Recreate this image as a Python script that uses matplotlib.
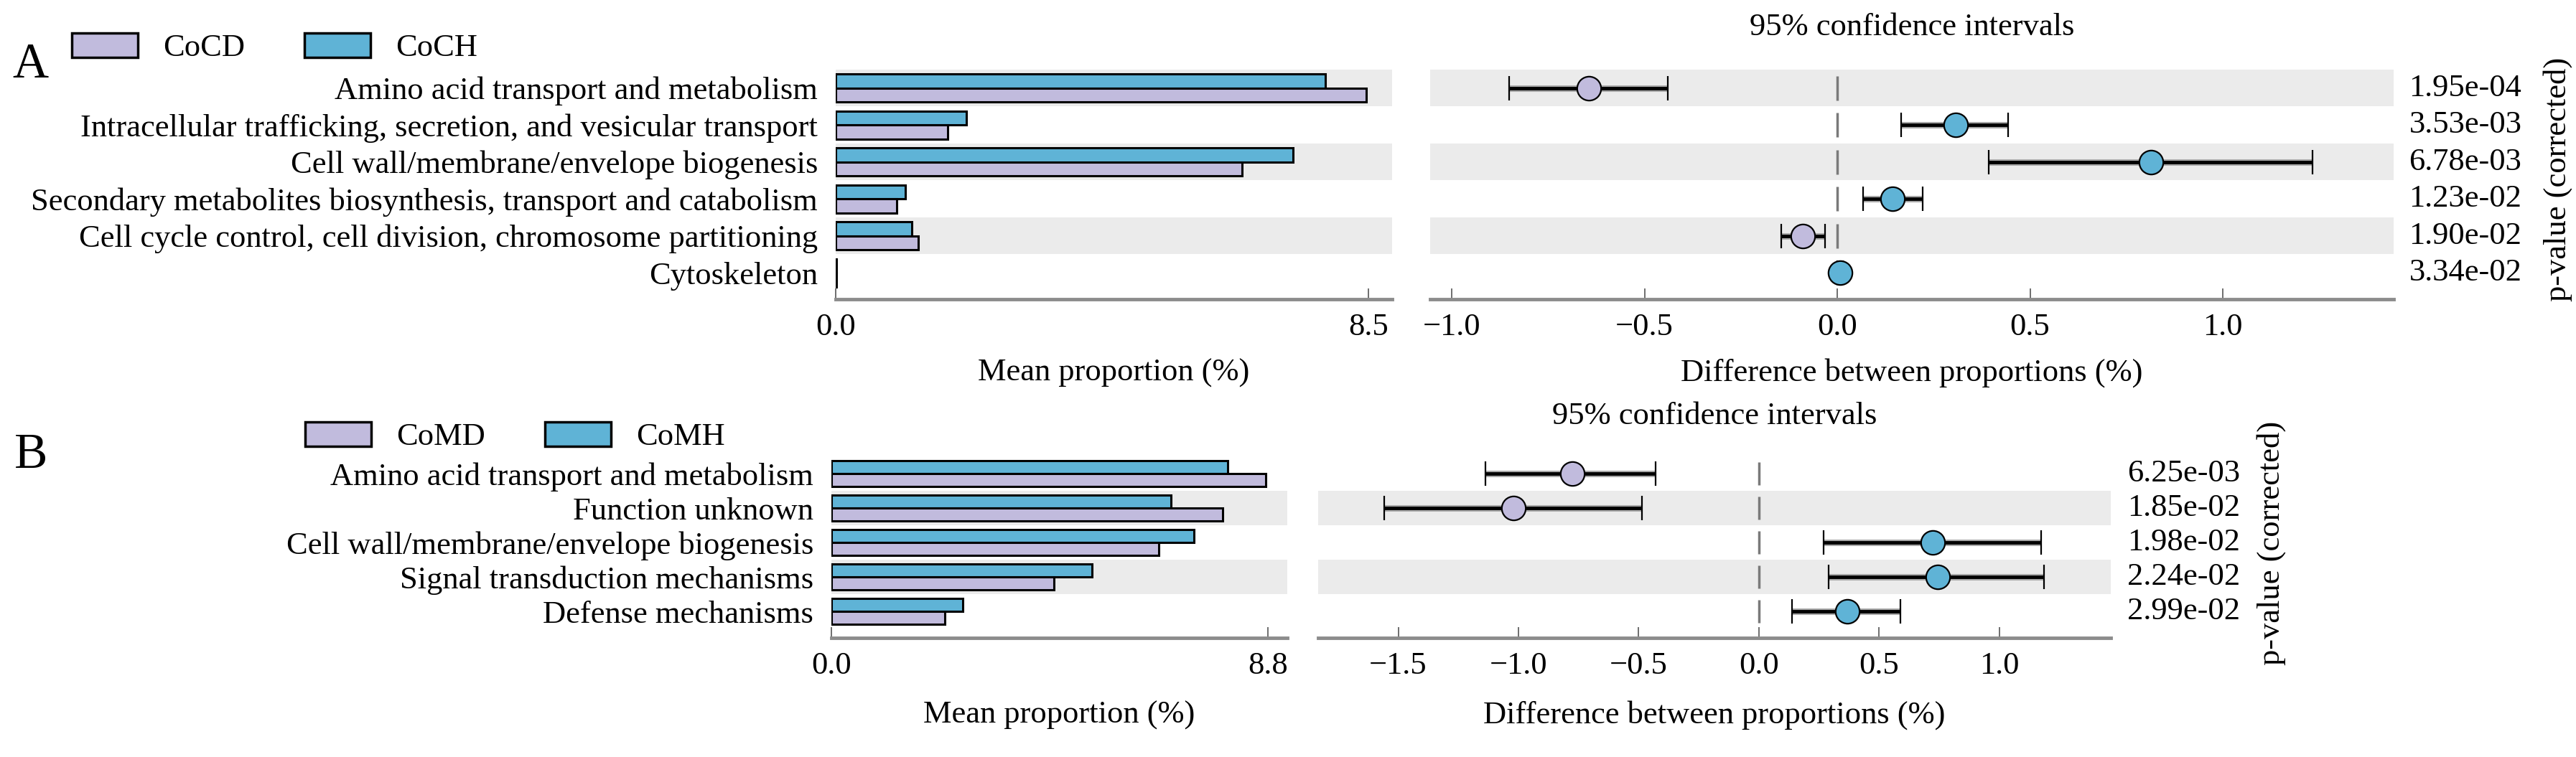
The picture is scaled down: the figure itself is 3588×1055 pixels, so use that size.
import numpy as np
import matplotlib
matplotlib.use('Agg')
import matplotlib.pyplot as plt
from matplotlib.patches import Patch
import matplotlib.patheffects as pe

plt.rcParams['font.family'] = ['Liberation Serif', 'DejaVu Serif']

# ---- panel A data ----
a_groups = ['CoCD', 'CoCH']
a_terms = ['Amino acid transport and metabolism',
           'Intracellular trafficking, secretion, and vesicular transport',
           'Cell wall/membrane/envelope biogenesis',
           'Secondary metabolites biosynthesis, transport and catabolism',
           'Cell cycle control, cell division, chromosome partitioning',
           'Cytoskeleton']
a_mean_d = [8.47, 1.79, 6.48, 0.97, 1.32, 0.01]
a_mean_h = [7.81, 2.09, 7.30, 1.11, 1.21, 0.01]
a_diff = [-0.645, 0.307, 0.814, 0.143, -0.089, 0.007]
a_ci_lo = [-0.851, 0.166, 0.393, 0.067, -0.146, 0.000]
a_ci_hi = [-0.440, 0.443, 1.233, 0.222, -0.032, 0.014]
a_pvals = ['1.95e-04', '3.53e-03', '6.78e-03', '1.23e-02', '1.90e-02', '3.34e-02']
a_bar_ticks = [0.0, 8.5]
a_diff_ticks = [-1.0, -0.5, 0.0, 0.5, 1.0]

# ---- panel B data ----
b_groups = ['CoMD', 'CoMH']
b_terms = ['Amino acid transport and metabolism',
           'Function unknown',
           'Cell wall/membrane/envelope biogenesis',
           'Signal transduction mechanisms',
           'Defense mechanisms']
b_mean_d = [8.76, 7.89, 6.60, 4.49, 2.29]
b_mean_h = [7.99, 6.85, 7.31, 5.25, 2.65]
b_diff = [-0.776, -1.021, 0.722, 0.743, 0.367]
b_ci_lo = [-1.137, -1.558, 0.269, 0.290, 0.136]
b_ci_hi = [-0.430, -0.487, 1.173, 1.185, 0.588]
b_pvals = ['6.25e-03', '1.85e-02', '1.98e-02', '2.24e-02', '2.99e-02']
b_bar_ticks = [0.0, 8.8]
b_diff_ticks = [-1.5, -1.0, -0.5, 0.0, 0.5, 1.0]

purple = '#c1bbdd'
blue = '#5fb3d6'
band = '#ebebeb'
FS = 32

W, H = 3588, 1055
fig = plt.figure(figsize=(W / 100, H / 100), dpi=100)


def px_rect(x0, x1, y_top, y_bot):
    return [x0 / W, 1 - y_bot / H, (x1 - x0) / W, (y_bot - y_top) / H]


def draw_panel(bar_px, diff_px, y_top, y_bot, terms, groups, mean_d, mean_h, diff, lo, hi, pvals,
               bar_ticks, bar_xlim, diff_ticks, diff_xlim, ybottom, pval_x, plab_x, title_y, xlab_y,
               legend_xy, letter, letter_xy):
    n = len(terms)
    y = np.arange(n)[::-1]
    axb = fig.add_axes(px_rect(bar_px[0], bar_px[1], y_top, y_bot))
    axd = fig.add_axes(px_rect(diff_px[0], diff_px[1], y_top, y_bot))
    for ax in (axb, axd):
        for i, yy in enumerate(y):
            if (n - 1 - i) % 2 == 1:
                ax.axhspan(yy - 0.5, yy + 0.5, color=band, lw=0, zorder=0)
        ax.set_ylim(ybottom, n - 0.5)
        for s in ['top', 'right', 'left']:
            ax.spines[s].set_visible(False)
        ax.spines['bottom'].set_color('#8c8c8c')
        ax.spines['bottom'].set_linewidth(3.5)
        ax.tick_params(axis='x', direction='in', length=11, width=1.2, color='#555555',
                       pad=14, labelsize=FS)
        ax.tick_params(axis='y', length=0)

    # mean proportion bars
    axb.barh(y + 0.19, mean_h, height=0.38, color=blue, edgecolor='black', lw=2.2, zorder=2)
    axb.barh(y - 0.19, mean_d, height=0.38, color=purple, edgecolor='black', lw=2.2, zorder=2)
    axb.set_xlim(*bar_xlim)
    axb.set_xticks(bar_ticks)
    axb.set_xticklabels(['%.1f' % t for t in bar_ticks])
    axb.set_yticks(y)
    axb.set_yticklabels(terms, fontsize=FS)
    axb.tick_params(axis='y', pad=18)
    axb.set_xlabel('Mean proportion (%)', fontsize=FS)
    axb.xaxis.set_label_coords(0.5, xlab_y)
    axb.xaxis.label.set_verticalalignment('center')

    # difference with 95% CI
    for yy, d, l, h in zip(y, diff, lo, hi):
        c = blue if d > 0 else purple
        axd.vlines(0, yy - 0.33, yy + 0.33, color='#7a7a7a', lw=2.5, zorder=1)
        eb = axd.errorbar(d, yy, xerr=[[d - l], [h - d]], fmt='o', color=c, ms=24, mec='black',
                          mew=1.6, ecolor='black', elinewidth=3.5, capsize=12, capthick=1.5, zorder=3)
        for lc in eb[2]:
            lc.set_path_effects([pe.Stroke(linewidth=6.5, foreground='#a8a8a8'), pe.Normal()])
    axd.set_xlim(*diff_xlim)
    axd.set_xticks(diff_ticks)
    axd.set_xticklabels(['%.1f' % t if t >= 0 else '\u2212%.1f' % -t for t in diff_ticks])
    axd.set_yticks([])
    axd.set_xlabel('Difference between proportions (%)', fontsize=FS)
    axd.xaxis.set_label_coords(0.5, xlab_y)
    axd.xaxis.label.set_verticalalignment('center')
    axd.text(0.5, title_y, '95% confidence intervals', transform=axd.transAxes,
             ha='center', va='center', fontsize=FS)

    tr = matplotlib.transforms.blended_transform_factory(axd.transAxes, axd.transData)
    for yy, p in zip(y, pvals):
        axd.text(pval_x, yy, p, transform=tr, ha='left', va='center', fontsize=FS)
    axd.text(plab_x, 0.522, 'p-value (corrected)', transform=axd.transAxes, rotation=90,
             ha='center', va='center', fontsize=FS)

    handles = [Patch(facecolor=purple, edgecolor='black', lw=2.5, label=groups[0]),
               Patch(facecolor=blue, edgecolor='black', lw=2.5, label=groups[1])]
    fig.legend(handles=handles, loc='upper left', bbox_to_anchor=(legend_xy[0] / W, 1 - legend_xy[1] / H),
               ncol=2, frameon=False, fontsize=FS, handlelength=2.07, handleheight=0.79,
               handletextpad=0.79, columnspacing=1.87, borderpad=0, borderaxespad=0)
    fig.text(letter_xy[0] / W, 1 - letter_xy[1] / H, letter, fontsize=50, va='baseline', ha='left')


draw_panel((1164, 1939), (1992, 3334), 97, 417, a_terms, a_groups, a_mean_d, a_mean_h, a_diff,
           a_ci_lo, a_ci_hi, a_pvals, a_bar_ticks, (0, 8.88), a_diff_ticks, (-1.056, 1.443), -0.716,
           1.016, 1.170, 1 + 59 / 320, -103 / 320, (100, 46), 'A', (17, 108))

draw_panel((1158, 1793), (1836, 2940), 636, 889, b_terms, b_groups, b_mean_d, b_mean_h, b_diff,
           b_ci_lo, b_ci_hi, b_pvals, b_bar_ticks, (0, 9.19), b_diff_ticks, (-1.833, 1.463), -0.77,
           1.021, 1.202, 1 + 56 / 253, -108 / 253, (425, 588), 'B', (20, 652))

fig.savefig('out.png', dpi=100, facecolor='white')
